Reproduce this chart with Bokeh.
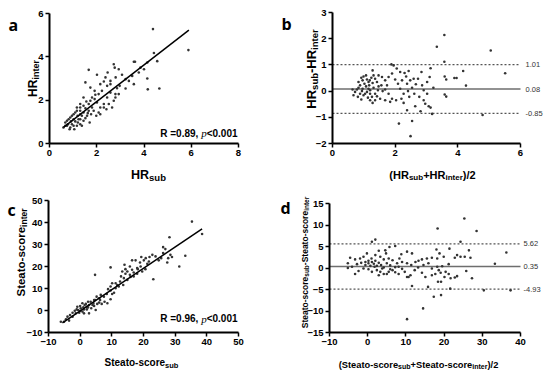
from math import pi
from bokeh.plotting import figure
from bokeh.models import Range1d, FixedTicker, Label
from bokeh.layouts import column, row
from bokeh.embed import file_html
from bokeh.resources import INLINE

# ---------------- data ----------------
# panel a: HR_sub vs HR_inter
a_points = [(4.38,5.28),(5.88,4.31),(4.42,4.18),(4.56,3.80),(4.14,3.74),(3.85,3.50),(4.14,3.00),(4.16,2.50),(4.65,2.54),
            (3.57,3.77),(3.62,3.77),(3.57,2.74),(3.22,2.54),(3.07,3.17),(2.93,3.43),(2.76,3.50),(2.72,3.66),(2.46,3.28),
            (2.37,3.05),(2.30,2.86),(2.01,3.17),(1.66,3.40),(1.52,2.82),(1.73,2.58),(1.91,2.43),(2.15,2.74),(2.58,2.74),
            (2.80,3.05),(2.86,2.55),(2.93,2.28),(2.79,2.12),(2.44,2.12),(2.58,2.35),(2.30,1.82),(2.41,1.58),(2.15,1.66),
            (2.01,1.89),(1.80,1.66),(2.08,1.43),(1.91,2.05),(1.73,1.97),(1.56,1.94),(1.44,2.12),(1.30,1.82),(1.52,1.63),
            (1.30,1.51),(1.59,1.28),(1.70,0.97),(1.16,1.66),(1.09,1.43),(0.95,1.28),(0.81,1.12),(0.67,0.97),(0.59,0.74),
            (0.74,0.82),(0.88,0.74),(1.02,0.82),(1.16,0.82),(1.30,0.89),(1.23,1.12),(1.37,1.28),(1.02,1.12),(0.91,1.02),
            (1.09,1.02),(1.19,1.28),(1.30,1.35),(1.44,1.43),(0.78,0.89),(0.95,0.89),(0.85,0.66),(1.05,0.66),(1.66,1.51),
            (1.87,1.51),(1.98,1.28),(2.15,1.35),(2.30,1.66),(2.51,1.82),(2.65,1.66),(2.72,1.97),(2.79,2.28),(2.97,2.66),
            (3.22,2.97),(3.36,2.89),(2.58,2.89),(2.44,2.66),(2.22,2.43),(2.08,2.28),(1.94,2.25),(1.80,2.12),(1.66,1.82),
            (1.44,1.74),(1.30,1.66),(1.16,1.51),(1.02,1.35),(0.88,1.20),(0.74,1.05),(0.67,0.82),(1.30,1.12),(1.44,1.05),
            (1.52,1.17),(1.20,0.97),(1.37,0.82),(1.62,1.40),(1.76,1.35),(4.00,3.43),(3.78,3.28),(3.50,3.12)]
a_fit_x = [0.59, 5.90]
a_fit_y = [0.74, 5.23]
a_stat = ("R =0.89, ", "p", "<0.001")
a_xticks = [0, 2, 4, 6, 8]
a_yticks = [0, 2, 4, 6]

# panel b: Bland-Altman of HR
b_points = [(3.57,2.14),(3.33,1.69),(5.05,1.55),(5.51,0.68),(3.57,1.12),(4.17,0.77),(3.89,0.50),(3.96,0.50),(3.63,0.44),
            (3.58,0.56),(4.26,0.21),(4.79,-0.91),(3.13,0.87),(2.84,0.73),(2.49,-1.72),(2.54,-1.14),(2.12,-1.24),(3.18,-0.87),
            (3.13,-0.63),(3.22,0.13),(3.58,-0.13),(3.63,-0.21),(2.81,-0.77),(2.64,-0.58),(2.38,-0.73),(2.27,-0.45),(2.45,-0.22),
            (2.61,-0.10),(2.77,-0.22),(2.91,-0.35),(2.96,-0.48),(3.07,-0.58),(2.38,0.28),(2.48,0.41),(2.59,0.47),(2.73,0.47),
            (2.66,0.26),(2.54,0.13),(2.41,0.00),(2.27,-0.10),(2.16,0.09),(2.09,0.28),(2.00,0.44),(1.90,0.67),(1.95,0.98),
            (1.88,1.02),(2.16,0.73),(2.30,0.69),(2.43,0.77),(2.05,0.86),(1.79,0.54),(1.68,0.41),(1.58,0.54),(1.56,0.22),
            (1.68,0.06),(1.79,-0.10),(1.90,-0.29),(1.84,-0.41),(1.68,-0.35),(1.52,-0.29),(1.42,-0.20),(1.36,-0.35),(1.28,-0.45),
            (1.20,-0.35),(1.13,-0.25),(1.26,-0.22),(1.36,-0.10),(1.45,0.03),(1.31,0.13),(1.20,0.03),(1.10,-0.03),(0.99,-0.16),
            (0.92,-0.32),(0.81,-0.22),(0.72,-0.03),(0.64,0.06),(0.83,0.13),(0.96,0.09),(1.07,0.18),(1.17,0.22),(1.28,0.31),
            (1.24,0.51),(1.10,0.44),(0.96,0.41),(0.83,0.35),(0.99,0.56),(1.28,0.79),(1.42,0.35),(1.47,0.18),(1.60,0.00),
            (1.74,0.22),(0.88,0.22),(1.02,0.28),(1.15,0.09),(1.04,-0.10),(1.20,-0.10),(0.94,0.00),(0.78,0.06),(0.88,-0.10),
            (1.15,0.35),(1.36,0.47),(1.47,0.60),(2.86,0.22),(3.02,0.35),(3.10,0.54),(2.91,0.03),(3.02,-0.10),(2.20,-0.29),
            (2.03,-0.35),(2.22,0.41),(2.35,0.56),(1.07,0.60),(1.19,0.41),(1.31,0.60),(0.92,0.51),(0.67,-0.16)]
b_limits = [1.01, 0.08, -0.85]
b_xticks = [0, 2, 4, 6]
b_yticks = [-2, -1, 0, 1, 2, 3]

# panel c: Steato-score_sub vs Steato-score_inter
c_points = [(35.3,40.4),(38.5,34.8),(28.2,33.3),(33.2,24.9),(31.3,20.0),(26.2,28.8),(26.9,27.9),(28.5,25.3),(29.0,24.3),
            (27.5,21.8),(27.8,23.8),(25.6,23.8),(24.8,22.8),(23.1,14.2),(22.8,25.3),(21.9,24.3),(20.7,23.8),(19.3,24.3),
            (20.1,22.8),(18.9,21.8),(17.5,22.8),(16.4,22.8),(15.7,20.0),(14.0,20.8),(14.3,18.8),(13.3,17.7),(14.9,17.7),
            (16.4,18.5),(18.0,19.3),(19.1,20.0),(21.2,21.2),(20.6,18.8),(19.6,17.7),(18.0,16.7),(16.9,17.3),(15.7,16.2),
            (14.3,16.7),(12.9,15.5),(14.9,13.9),(13.6,11.6),(12.2,10.9),(11.2,12.4),(10.1,12.4),(9.6,10.9),(9.6,19.6),
            (4.7,16.2),(11.2,10.1),(8.8,9.7),(9.6,9.1),(10.1,7.5),(9.6,5.1),(8.6,3.3),(7.5,6.3),(6.5,7.1),(6.0,5.6),
            (5.2,6.3),(6.0,3.6),(6.8,3.0),(4.4,4.8),(3.3,4.0),(3.9,2.5),(2.5,4.0),(1.8,3.0),(2.8,2.5),(2.1,1.7),(1.0,1.4),
            (0.2,1.0),(0.7,3.3),(-0.9,1.7),(-0.7,0.2),(-1.7,-0.1),(-1.4,-1.3),(-2.4,-1.0),(-3.2,-2.1),(-4.0,-2.8),
            (-4.5,-4.0),(-5.1,-5.1),(-3.5,-4.6),(-6.1,-5.1),(-2.4,-2.8),(-0.3,-1.0),(0.7,-0.5),(1.2,0.5),(2.1,0.5),(3.5,1.0),
            (4.4,2.1),(5.4,3.0),(4.9,0.2),(2.8,-1.3),(1.2,-1.3),(0.0,-0.1),(-1.1,0.5),(1.4,2.5),(2.5,1.4),(0.0,2.0),(7.7,4.0),
            (8.4,7.5),(10.7,8.1),(11.7,11.6),(12.6,13.2),(13.8,14.7),(15.9,15.2),(16.9,15.5),(18.2,18.8),(21.7,22.3),
            (23.8,24.6),(26.2,26.1),(4.7,4.8),(6.3,4.8),(4.2,3.3)]
c_fit_x = [-5.6, 38.5]
c_fit_y = [-5.6, 37.1]
c_stat = ("R =0.96, ", "p", "<0.001")
c_xticks = [-10, 0, 10, 20, 30, 40, 50]
c_yticks = [-10, 0, 10, 20, 30, 40, 50]

# panel d: Bland-Altman of Steato-score
d_points = [(25.3,11.5),(18.3,9.2),(28.5,8.6),(24.3,6.1),(21.4,4.5),(18.0,4.3),(18.8,3.4),(26.5,4.1),(23.4,3.0),(25.4,2.6),
            (26.9,2.4),(24.3,2.6),(22.8,2.4),(19.9,2.6),(18.2,2.2),(16.8,2.4),(15.5,2.2),(14.2,2.0),(13.3,1.7),(12.5,1.4),
            (11.6,3.4),(10.3,3.8),(8.8,3.2),(8.3,2.2),(7.2,5.1),(5.7,4.9),(4.6,4.1),(4.8,3.4),(2.9,4.0),(2.0,6.6),(1.1,6.1),
            (-0.2,3.4),(-1.1,2.6),(-2.0,2.2),(-3.3,2.0),(-4.6,2.4),(-5.2,1.1),(-5.2,0.0),(-4.1,0.3),(-3.3,-1.4),(-2.4,-0.7),
            (-1.1,-0.1),(-0.6,0.7),(0.2,1.1),(1.1,1.4),(2.0,1.7),(2.9,1.2),(3.5,0.7),(4.2,0.1),(5.0,1.1),(5.9,0.6),(6.5,-0.5),
            (7.2,-1.0),(8.1,0.3),(9.0,-0.2),(9.7,-0.9),(10.3,-2.1),(11.2,-1.7),(11.6,-4.2),(10.7,-2.1),(12.3,-0.5),(13.2,0.1),
            (14.2,-1.1),(15.1,-2.1),(15.8,-4.4),(14.5,-9.4),(10.3,-11.9),(17.3,-6.7),(19.2,-6.3),(18.4,-3.2),(19.2,-3.2),
            (20.1,-2.1),(21.2,-1.4),(21.7,-2.4),(22.8,-2.2),(23.4,-1.9),(20.4,-0.9),(19.1,-1.1),(17.7,-1.4),(16.8,-1.7),
            (16.8,-0.1),(18.2,0.3),(19.5,0.4),(21.2,0.9),(21.6,-4.8),(25.8,-0.7),(27.3,-2.4),(30.4,-5.2),(33.3,1.0),(36.3,3.6),
            (37.4,-5.2),(18.6,-0.5),(14.6,0.7),(15.9,1.1),(11.4,0.7),(10.3,1.1),(9.0,1.4),(7.7,1.1),(6.5,1.8),(5.5,2.2),
            (4.2,2.0),(3.3,2.6),(2.0,3.0),(1.0,2.2),(0.2,1.7),(-0.6,1.4),(-1.7,1.2),(-2.8,0.9),(1.8,0.3),(2.4,-0.5),(3.3,-0.9),
            (4.2,-1.4),(5.0,-1.4),(2.9,-1.7),(1.1,-0.9),(0.2,-0.3),(0.7,0.5),(1.6,1.0),(2.4,0.5),(3.8,-0.1),(5.9,-0.3),
            (7.2,0.2),(8.1,-1.4),(5.5,-0.9)]
d_limits = [5.62, 0.35, -4.93]
d_xticks = [-10, 0, 10, 20, 30, 40]
d_yticks = [-15, -10, -5, 0, 5, 10, 15]

# ---------------- helpers ----------------
SANS = "Liberation Sans"
SERIF = "Liberation Serif"
LETTER_FONT = "Open Sans"
FW, FH = 275, 186

ADV = {'(': 333, ')': 333, '/': 278, '+': 584, '-': 333, '=': 584, ' ': 278, ',': 278, '.': 278, '<': 584,
       'H': 722, 'R': 722, 'S': 667, 'a': 556, 'b': 611, 'c': 556, 'e': 556, 'i': 278, 'n': 611, 'o': 611,
       'r': 389, 's': 556, 't': 333, 'u': 611}


def tw(text, size, font):
    if font == SERIF:
        return 0.5 * size * len(text)
    return sum(ADV.get(ch, 556) for ch in text) * size / 1000.0


def rich(p, segs, x, y, dx, dy, align="center", rotate=False, color="black"):
    widths = [tw(t, s, f) for (t, s, sh, f, st) in segs]
    total = sum(widths)
    cum = {"center": -total / 2.0, "right": -total, "left": 0.0}[align]
    for (t, s, sh, f, st), w in zip(segs, widths):
        if rotate:
            lab = Label(x=x, y=y, x_offset=dx + sh, y_offset=dy + cum, angle=pi / 2)
        else:
            lab = Label(x=x, y=y, x_offset=dx + cum, y_offset=dy - sh)
        lab.text = t
        lab.text_font = f
        lab.text_font_size = f"{s}px"
        lab.text_font_style = st
        lab.text_color = color
        lab.text_align = "left"
        lab.text_baseline = "alphabetic"
        p.add_layout(lab)
        cum += w


def main_sub(parts, f, s, shift):
    segs = []
    for i, t in enumerate(parts):
        if i % 2 == 0:
            segs.append((t, f, 0, SANS, "bold"))
        else:
            segs.append((t, s, shift, SANS, "bold"))
    return segs


def span_range(d0, d1, p0, p1, total):
    # data d0 sits p0 px and d1 sits p1 px from the frame's left/bottom edge
    s = (p1 - p0) / float(d1 - d0)
    return Range1d(d0 - p0 / s, d1 + (total - p1) / s)


def make_fig(xt, yt, xpix, ypix):
    x0, x1 = xt[0], xt[-1]
    y0, y1 = yt[0], yt[-1]
    p = figure(width=FW, height=FH,
               x_range=span_range(x0, x1, xpix[0], xpix[1], FW),
               y_range=span_range(y0, y1, ypix[0], ypix[1], FH),
               output_backend="svg", toolbar_location=None, tools="",
               min_border_left=0, min_border_right=0, min_border_top=0, min_border_bottom=0)
    p.xaxis.ticker = FixedTicker(ticks=xt)
    p.yaxis.ticker = FixedTicker(ticks=yt)
    p.xaxis.fixed_location = y0
    p.yaxis.fixed_location = x0
    p.xaxis.bounds = (x0, x1)
    p.yaxis.bounds = (y0, y1)
    for ax in (p.xaxis[0], p.yaxis[0]):
        ax.axis_line_width = 2
        ax.axis_line_color = "black"
        ax.major_tick_line_width = 1.5
        ax.major_tick_line_color = "black"
        ax.major_tick_out = 4
        ax.major_tick_in = 0
        ax.minor_tick_line_color = None
        ax.major_label_text_font = SANS
        ax.major_label_text_font_size = "9.5px"
        ax.major_label_text_font_style = "bold"
        ax.major_label_text_color = "black"
        ax.major_label_standoff = 2
    p.grid.visible = False
    p.outline_line_color = None
    p.background_fill_color = "white"
    p.border_fill_color = "white"
    return p


def letter(p, t, x, y, dx, dy):
    p.add_layout(Label(x=x, y=y, x_offset=dx, y_offset=dy, text=t, text_font=LETTER_FONT,
                       text_font_size="16px", text_font_style="bold", text_color="black",
                       text_baseline="alphabetic", text_align="left"))


def stat(p, txt, x, y, dx, dy):
    segs = [(txt[0], 10, 0, SANS, "bold"), (txt[1], 11, 0, SERIF, "italic"), (txt[2], 10, 0, SANS, "bold")]
    rich(p, segs, x, y, dx, dy, align="right")


def ba_lines(p, limits, xt, dx):
    x0, x1 = xt[0], xt[-1]
    for i, v in enumerate(limits):
        if i == 1:
            p.line([x0, x1], [v, v], line_color="#6e6e6e", line_width=1.5)
        else:
            p.line([x0, x1], [v, v], line_color="#555555", line_width=1.2, line_dash="2 2")
        p.add_layout(Label(x=x1, y=v, x_offset=dx, text=f"{v:.2f}", text_font=SANS, text_font_size="7.5px",
                           text_color="#333333", text_baseline="middle", text_align="left"))


def pts(p, data):
    p.scatter([q[0] for q in data], [q[1] for q in data], size=2.6, fill_color="#333333",
              line_color=None, marker="circle")


# ---------------- panel a ----------------
pa = make_fig(a_xticks, a_yticks, (49, 238), (43, 173))
pts(pa, a_points)
pa.line(a_fit_x, a_fit_y, line_color="black", line_width=1.5)
stat(pa, a_stat, 8, 0, -1, 10.5)
rich(pa, main_sub(["HR", "sub"], 12.5, 9.5, 3), 4, 0, 4.5, -31)
rich(pa, main_sub(["HR", "inter"], 12, 9, 3), 0, 3, -17, 0, rotate=True)
letter(pa, "a", 0, 6, -41, -11)

# ---------------- panel b ----------------
pb = make_fig(b_xticks, b_yticks, (57, 245), (43, 174))
ba_lines(pb, b_limits, b_xticks, 5)
pts(pb, b_points)
rich(pb, main_sub(["(HR", "sub", "+HR", "inter", ")/2"], 11, 8, 2.5), 3, -2, 6, -31)
rich(pb, main_sub(["HR", "sub", "-HR", "inter"], 13, 9.5, 3), 0, 0.5, -21, 9, rotate=True)
letter(pb, "b", 0, 3, -51, -11)

# ---------------- panel c ----------------
pc = make_fig(c_xticks, c_yticks, (48, 238), (40, 172))
pts(pc, c_points)
pc.line(c_fit_x, c_fit_y, line_color="black", line_width=1.5)
stat(pc, c_stat, 50, -10, -1, 13.7)
rich(pc, main_sub(["Steato-score", "sub"], 10, 7.5, 2.5), 20, -10, -2, -30)
rich(pc, main_sub(["Steato-score", "inter"], 11.5, 8.5, 3), -10, 20, -28, 14, rotate=True)
letter(pc, "c", -10, 50, -41, -9)

# ---------------- panel d ----------------
pd_ = make_fig(d_xticks, d_yticks, (54, 245), (40, 169))
ba_lines(pd_, d_limits, d_xticks, 3)
pts(pd_, d_points)
rich(pd_, main_sub(["(Steato-score", "sub", "+Steato-score", "inter", ")/2"], 9.3, 7, 2.2), 15, -15, -6.5, -32)
rich(pd_, main_sub(["Steato-score", "sub", "-Steato-score", "inter"], 8.5, 6.5, 2.3), -10, 0, -25, 5.5, rotate=True)
letter(pd_, "d", -10, 15, -49, -4)

layout = column(row(pa, pb), row(pc, pd_))
open("out.html", "w").write(file_html(layout, INLINE))
